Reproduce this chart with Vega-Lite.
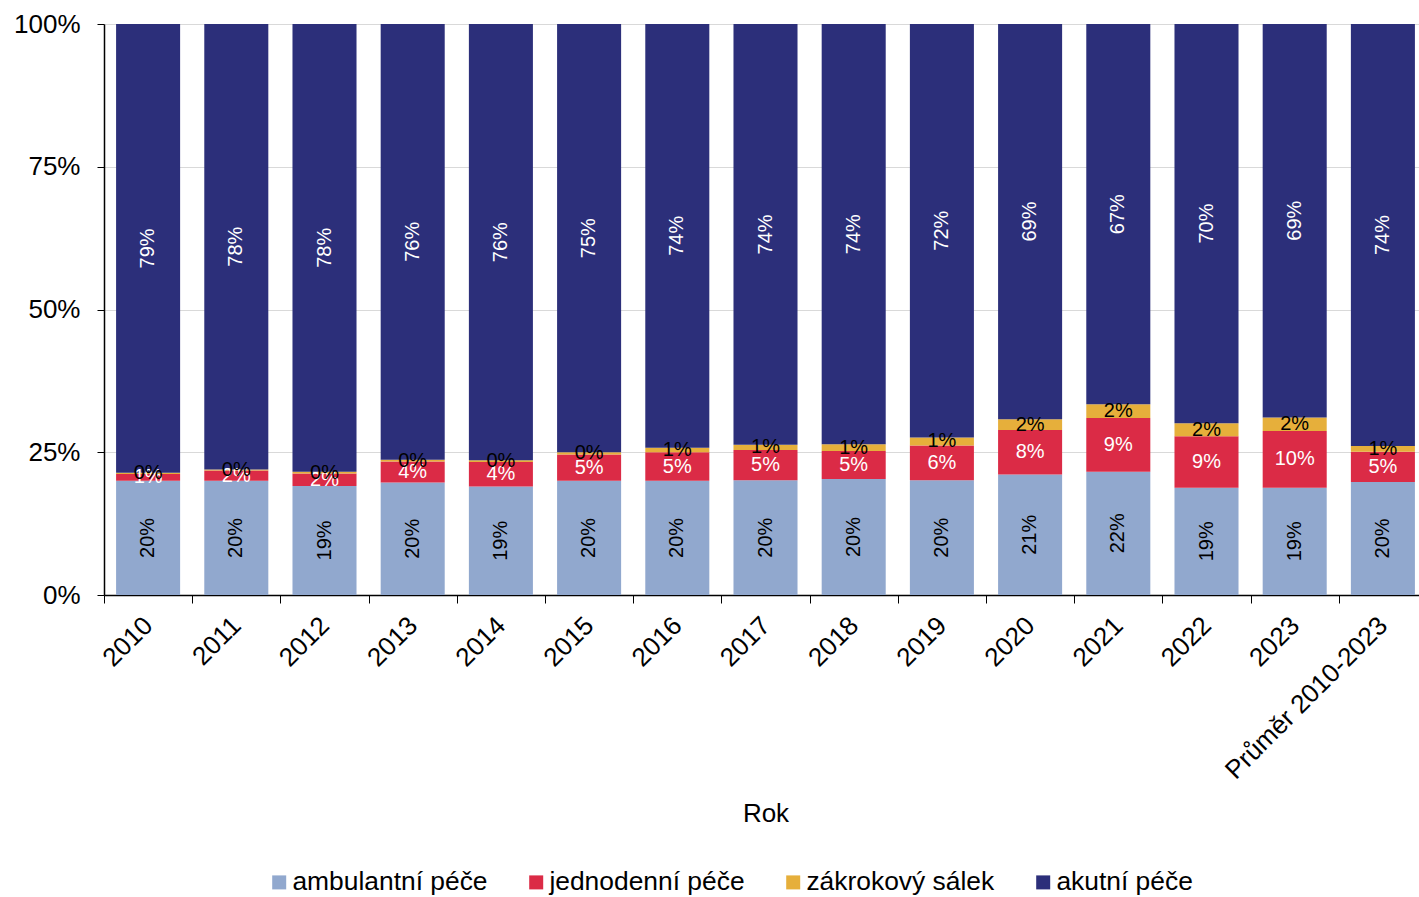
{
  "$schema": "https://vega.github.io/schema/vega-lite/v6.json",
  "width": 1315,
  "height": 571,
  "autosize": {"type": "none"},
  "padding": {"left": 104, "top": 24, "right": 0, "bottom": 302},
  "background": "white",
  "config": {
    "font": "Liberation Sans",
    "view": {"stroke": null},
    "text": {"font": "Liberation Sans"}
  },
  "data": {
    "values": [
      {"rok": "2010", "s": "ambulantní péče", "v": 0.200},
      {"rok": "2010", "s": "jednodenní péče", "v": 0.012},
      {"rok": "2010", "s": "zákrokový sálek", "v": 0.002},
      {"rok": "2010", "s": "akutní péče", "v": 0.786},
      {"rok": "2011", "s": "ambulantní péče", "v": 0.200},
      {"rok": "2011", "s": "jednodenní péče", "v": 0.018},
      {"rok": "2011", "s": "zákrokový sálek", "v": 0.002},
      {"rok": "2011", "s": "akutní péče", "v": 0.780},
      {"rok": "2012", "s": "ambulantní péče", "v": 0.191},
      {"rok": "2012", "s": "jednodenní péče", "v": 0.022},
      {"rok": "2012", "s": "zákrokový sálek", "v": 0.003},
      {"rok": "2012", "s": "akutní péče", "v": 0.784},
      {"rok": "2013", "s": "ambulantní péče", "v": 0.197},
      {"rok": "2013", "s": "jednodenní péče", "v": 0.037},
      {"rok": "2013", "s": "zákrokový sálek", "v": 0.003},
      {"rok": "2013", "s": "akutní péče", "v": 0.763},
      {"rok": "2014", "s": "ambulantní péče", "v": 0.190},
      {"rok": "2014", "s": "jednodenní péče", "v": 0.043},
      {"rok": "2014", "s": "zákrokový sálek", "v": 0.003},
      {"rok": "2014", "s": "akutní péče", "v": 0.764},
      {"rok": "2015", "s": "ambulantní péče", "v": 0.200},
      {"rok": "2015", "s": "jednodenní péče", "v": 0.046},
      {"rok": "2015", "s": "zákrokový sálek", "v": 0.004},
      {"rok": "2015", "s": "akutní péče", "v": 0.750},
      {"rok": "2016", "s": "ambulantní péče", "v": 0.200},
      {"rok": "2016", "s": "jednodenní péče", "v": 0.050},
      {"rok": "2016", "s": "zákrokový sálek", "v": 0.008},
      {"rok": "2016", "s": "akutní péče", "v": 0.742},
      {"rok": "2017", "s": "ambulantní péče", "v": 0.201},
      {"rok": "2017", "s": "jednodenní péče", "v": 0.053},
      {"rok": "2017", "s": "zákrokový sálek", "v": 0.009},
      {"rok": "2017", "s": "akutní péče", "v": 0.737},
      {"rok": "2018", "s": "ambulantní péče", "v": 0.203},
      {"rok": "2018", "s": "jednodenní péče", "v": 0.049},
      {"rok": "2018", "s": "zákrokový sálek", "v": 0.012},
      {"rok": "2018", "s": "akutní péče", "v": 0.736},
      {"rok": "2019", "s": "ambulantní péče", "v": 0.201},
      {"rok": "2019", "s": "jednodenní péče", "v": 0.061},
      {"rok": "2019", "s": "zákrokový sálek", "v": 0.014},
      {"rok": "2019", "s": "akutní péče", "v": 0.724},
      {"rok": "2020", "s": "ambulantní péče", "v": 0.211},
      {"rok": "2020", "s": "jednodenní péče", "v": 0.078},
      {"rok": "2020", "s": "zákrokový sálek", "v": 0.019},
      {"rok": "2020", "s": "akutní péče", "v": 0.692},
      {"rok": "2021", "s": "ambulantní péče", "v": 0.216},
      {"rok": "2021", "s": "jednodenní péče", "v": 0.094},
      {"rok": "2021", "s": "zákrokový sálek", "v": 0.024},
      {"rok": "2021", "s": "akutní péče", "v": 0.666},
      {"rok": "2022", "s": "ambulantní péče", "v": 0.188},
      {"rok": "2022", "s": "jednodenní péče", "v": 0.090},
      {"rok": "2022", "s": "zákrokový sálek", "v": 0.023},
      {"rok": "2022", "s": "akutní péče", "v": 0.699},
      {"rok": "2023", "s": "ambulantní péče", "v": 0.188},
      {"rok": "2023", "s": "jednodenní péče", "v": 0.099},
      {"rok": "2023", "s": "zákrokový sálek", "v": 0.024},
      {"rok": "2023", "s": "akutní péče", "v": 0.689},
      {"rok": "Průměr 2010-2023", "s": "ambulantní péče", "v": 0.198},
      {"rok": "Průměr 2010-2023", "s": "jednodenní péče", "v": 0.053},
      {"rok": "Průměr 2010-2023", "s": "zákrokový sálek", "v": 0.010},
      {"rok": "Průměr 2010-2023", "s": "akutní péče", "v": 0.739}
    ]
  },
  "transform": [
    {"calculate": "indexof(['ambulantní péče','jednodenní péče','zákrokový sálek','akutní péče'], datum.s)", "as": "o"}
  ],
  "encoding": {
    "x": {
      "field": "rok",
      "type": "nominal",
      "sort": null,
      "scale": {"paddingInner": 0, "paddingOuter": 0, "range": [0, 1323]},
      "axis": {
        "title": "Rok",
        "titleFontSize": 26,
        "titleFontWeight": "normal",
        "titleColor": "black",
        "titlePadding": 17,
        "labelFontSize": 26,
        "labelColor": "black",
        "labelAngle": -45,
        "labelAlign": "right",
        "labelBaseline": "middle",
        "labelPadding": 18,
        "labelLimit": 0,
        "tickBand": "extent",
        "tickColor": "black",
        "tickSize": 8,
        "domainColor": "black",
        "domainWidth": 1.5,
        "grid": false
      }
    }
  },
  "layer": [
    {
      "mark": {"type": "bar", "width": {"band": 0.726}},
      "encoding": {
        "y": {
          "field": "v",
          "type": "quantitative",
          "stack": "zero",
          "scale": {"domain": [0, 1]},
          "axis": {
            "title": null,
            "values": [0, 0.25, 0.5, 0.75, 1],
            "format": ".0%",
            "labelFontSize": 26,
            "labelColor": "black",
            "labelPadding": 17,
            "tickColor": "black",
            "tickSize": 7,
            "domainColor": "black",
            "domainWidth": 1.5,
            "gridColor": "#d9d9d9",
            "gridWidth": 1
          }
        },
        "color": {
          "field": "s",
          "type": "nominal",
          "scale": {
            "domain": ["ambulantní péče", "jednodenní péče", "zákrokový sálek", "akutní péče"],
            "range": ["#91A8CE", "#DB2B46", "#E6AF3B", "#2C2F7A"]
          },
          "legend": {
            "orient": "none",
            "legendX": 162,
            "legendY": 845,
            "direction": "horizontal",
            "title": null,
            "labelFontSize": 26.4,
            "labelColor": "black",
            "labelLimit": 0,
            "symbolType": "square",
            "symbolSize": 196,
            "symbolStrokeWidth": 0,
            "labelOffset": 0,
            "columnPadding": 35
          }
        },
        "order": {"field": "o", "type": "quantitative"}
      }
    },
    {
      "mark": {"type": "text", "fontSize": 20, "align": "center", "baseline": "middle"},
      "encoding": {
        "y": {"field": "v", "type": "quantitative", "stack": "zero", "bandPosition": 0.5},
        "detail": {"field": "s"},
        "order": {"field": "o", "type": "quantitative"},
        "text": {"field": "v", "type": "quantitative", "format": ".0%"},
        "color": {
          "condition": {"test": "datum.s === 'ambulantní péče' || datum.s === 'zákrokový sálek'", "value": "black"},
          "value": "white"
        },
        "angle": {
          "condition": {"test": "datum.s === 'ambulantní péče' || datum.s === 'akutní péče'", "value": 270},
          "value": 0
        }
      }
    }
  ]
}
